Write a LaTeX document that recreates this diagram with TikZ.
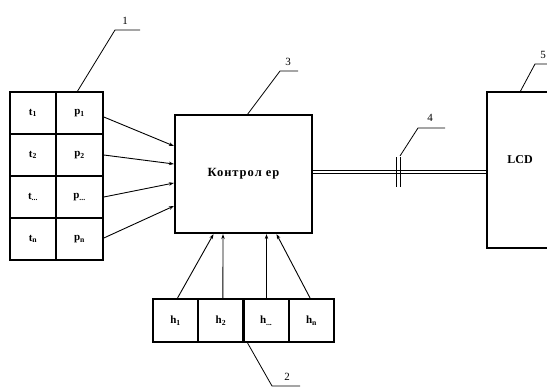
\documentclass[tikz,border=0pt]{standalone}
\usepackage{fontspec}
\setmainfont{Liberation Serif}
\usetikzlibrary{calc,arrows.meta}
\begin{document}
\begin{tikzpicture}[x=1pt,y=-1pt,
  cell/.style={draw,line width=2.2pt,minimum width=46.5pt,minimum height=42pt,inner sep=0pt,font=\fontsize{11}{13}\selectfont\bfseries},
  hcell/.style={draw,line width=2.2pt,minimum width=45.3pt,minimum height=43pt,inner sep=0pt,font=\fontsize{11}{13}\selectfont\bfseries},
  bigbox/.style={draw,line width=2.2pt,inner sep=0pt},
  sig/.style={line width=0.9pt,-{Stealth[length=5pt,width=3.5pt]}},
  leader/.style={line width=0.8pt},
  num/.style={font=\fontsize{11}{13}\selectfont,inner sep=1pt}
]
\useasboundingbox (0,0) rectangle (547,388);
\clip (0,0) rectangle (547,388);
% left table
\node[cell] (t1) at (33,113) {t\textsubscript{1}};
\node[cell] (p1) at (79.5,113) {p\textsubscript{1}};
\node[cell] (t2) at (33,155) {t\textsubscript{2}};
\node[cell] (p2) at (79.5,155) {p\textsubscript{2}};
\node[cell] (t3) at (33,197) {t\textsubscript{...}};
\node[cell] (p3) at (79.5,197) {p\textsubscript{...}};
\node[cell] (t4) at (33,239) {t\textsubscript{n}};
\node[cell] (p4) at (79.5,239) {p\textsubscript{n}};
% controller
\node[bigbox,minimum width=137pt,minimum height=118pt,font=\fontsize{12.5}{15}\selectfont\bfseries\addfontfeature{LetterSpace=8}] (ctrl) at (243.5,174) {Контрол ер};
% LCD
\node[bigbox,minimum width=113pt,minimum height=156pt] (lcd) at (543.5,170) {};
\node[font=\fontsize{12}{14}\selectfont\bfseries] (lcdtext) at (520,160) {LCD};
% bottom row
\node[hcell] (h1) at (175.6,320.5) {h\textsubscript{1}};
\node[hcell] (h2) at (220.9,320.5) {h\textsubscript{2}};
\node[hcell] (h3) at (266.2,320.5) {h\textsubscript{...}};
\node[hcell] (h4) at (311.5,320.5) {h\textsubscript{n}};
% arrows from table
\draw[sig] ($(p1.east)+(0,4)$) -- ($(ctrl.west)+(0,-28)$);
\draw[sig] ($(p2.east)+(0,0)$) -- ($(ctrl.west)+(0,-10)$);
\draw[sig] ($(p3.east)+(0,0)$) -- ($(ctrl.west)+(0,9)$);
\draw[sig] ($(p4.east)+(0,-1)$) -- ($(ctrl.west)+(0,32)$);
% arrows from bottom row
\draw[sig] ($(h1.north)+(2,0)$) -- ($(ctrl.south)+(-30,0)$);
\draw[sig] ($(h2.north)+(2,0)$) -- ($(ctrl.south)+(-20.5,0)$);
\draw[sig] ($(h3.north)+(0.3,0)$) -- ($(ctrl.south)+(23,0)$);
\draw[sig] ($(h4.north)+(-1.5,0)$) -- ($(ctrl.south)+(33,0)$);
% double link controller - LCD
\coordinate (linkL) at ($(ctrl.east)+(0,-2)$);
\draw[line width=0.8pt,double distance=2.6pt] (linkL) -- (linkL -| lcd.west);
\draw[line width=0.8pt] (396,157) -- (396,187);
\draw[line width=0.8pt] (400,157) -- (400,187);
% leaders and numbers
\draw[leader] (77,92) -- (115,30) -- (140,30);
\node[num] (n1) at (125,21) {1};
\draw[leader] (247,115) -- (280,71) -- (298,71);
\node[num] (n3) at (288,62) {3};
\draw[leader] (400,156) -- (418,128) -- (445,128);
\node[num] (n4) at (430,118) {4};
\draw[leader] (520,92) -- (535,64) -- (547,64);
\node[num] (n5) at (543,55) {5};
\draw[leader] (247,342) -- (272,386) -- (300,386);
\node[num] (n2) at (287,377) {2};
\end{tikzpicture}
\end{document}
